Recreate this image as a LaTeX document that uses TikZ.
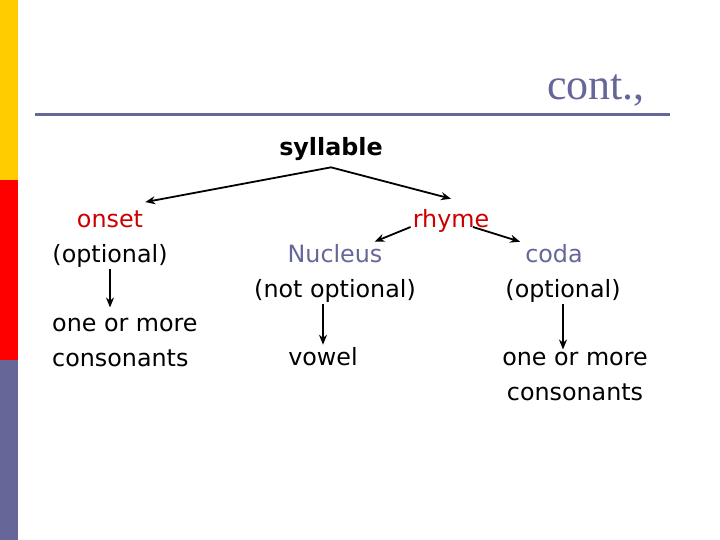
\documentclass[tikz,border=0pt]{standalone}
\usepackage{fontspec}
\setmainfont{DejaVu Sans}
\newfontfamily\titlefont{Liberation Serif}
\usetikzlibrary{arrows.meta,calc}
\definecolor{slate}{RGB}{102,102,153}
\definecolor{barYellow}{RGB}{255,204,0}
\definecolor{barRed}{RGB}{255,0,0}
\definecolor{darkred}{RGB}{204,0,0}
\newcommand{\txt}{\fontsize{23.8}{35}\selectfont}

\begin{document}
\begin{tikzpicture}[x=1pt,y=-1pt,
    every node/.style={inner sep=2pt,font=\txt},
    arr/.style={-{Stealth[length=10pt,width=8pt]},line width=1.8pt}]
  \useasboundingbox[fill=white] (0,0) rectangle (720,540);
  % bar on the left
  \fill[barYellow] (0,0) rectangle (18,180);
  \fill[barRed] (0,180) rectangle (18,360);
  \fill[slate] (0,360) rectangle (18,540);
  % title
  \node (title) [anchor=base east,font=\titlefont\fontsize{44}{44}\selectfont,text=slate] at (647,100) {cont.,};
  \draw[slate,line width=3pt] (35,115) -- (670,115);
  % tree
  \node (syl) [anchor=base,font=\txt\bfseries] at (331,156) {syllable};
  \node (onset) [anchor=base,text=darkred] at (110,227) {onset};
  \node (onsetopt) [anchor=base] at (110,262) {(optional)};
  \node (lone) [anchor=base west,inner xsep=0pt] at (52,331) {one or more};
  \node (lcons) [anchor=base west,inner xsep=0pt] at (52,366) {consonants};
  \node (rhyme) [anchor=base,text=darkred] at (451,227) {rhyme};
  \node (nucleus) [anchor=base,text=slate] at (335,262) {Nucleus};
  \node (notopt) [anchor=base] at (335,297) {(not optional)};
  \node (vowel) [anchor=base] at (323,365) {vowel};
  \node (coda) [anchor=base,text=slate] at (554,262) {coda};
  \node (codaopt) [anchor=base] at (563,297) {(optional)};
  \node (rone) [anchor=base] at (575,365) {one or more};
  \node (rcons) [anchor=base] at (575,400) {consonants};
  \draw[arr] ([yshift=-4pt]syl.south) -- ([yshift=6pt]onset.north east);
  \draw[arr] ([yshift=-4pt]syl.south) -- ([yshift=8pt]rhyme.north);
  \draw[arr] (rhyme.base west) -- ([xshift=-10pt]nucleus.north east);
  \draw[arr] ([xshift=22pt]rhyme.base) -- ([xshift=-3pt]coda.north west);
  \draw[arr] (onsetopt.south) -- ($(onsetopt.south |- lone.north)+(0,-8)$);
  \draw[arr] (vowel.north |- notopt.south) -- (vowel.north);
  \draw[arr] (codaopt.south) -- (codaopt.south |- rone.north);
\end{tikzpicture}
\end{document}
